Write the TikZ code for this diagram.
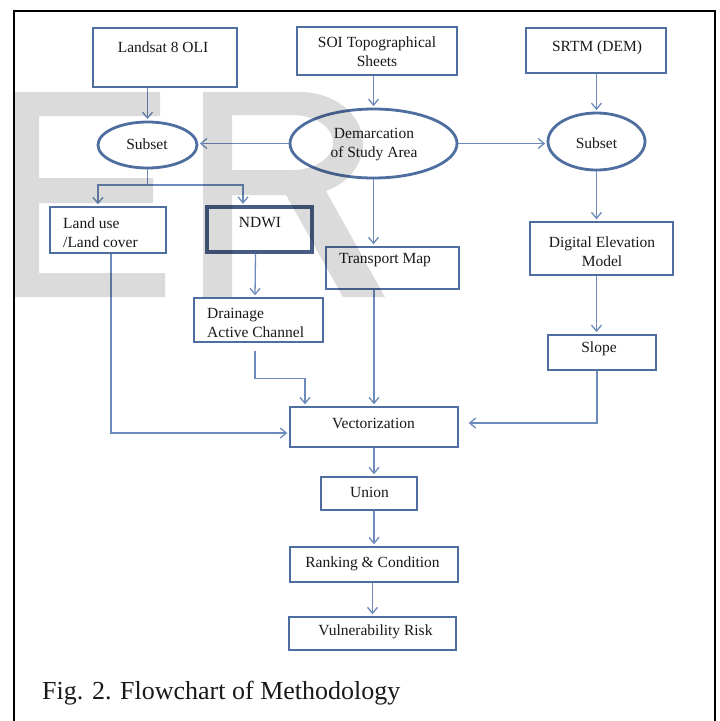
\documentclass[tikz,border=0pt]{standalone}
\usepackage{fontspec}
\setmainfont{Liberation Serif}
\usetikzlibrary{arrows.meta,calc,shapes.geometric}
\definecolor{bord}{RGB}{79,110,160}
\definecolor{bordd}{RGB}{70,92,132}
\definecolor{arr}{RGB}{108,138,186}
\begin{document}
\begin{tikzpicture}[x=1pt,y=-1pt,
  box/.style={draw=bord, line width=2.4pt, fill=white, inner sep=0pt, rectangle},
  ell/.style={draw=bord, line width=2.8pt, fill=white, inner sep=0pt, ellipse},
  txt/.style={font=\fontsize{15.5}{19}\selectfont, text=black!90, inner sep=0pt, align=center},
  ltxt/.style={txt, align=left, anchor=west},
  ln/.style={draw=arr, line width=1.3pt},
  conn/.style={ln, -{Straight Barb[length=6pt,width=10pt]}, shorten >=1.5pt}]
\useasboundingbox (0,0) rectangle (720,721);
% boxes
\node[box, minimum width=144, minimum height=59] (landsat) at (165,57.5) {};
\node[txt] (landsat-t) at (163,47) {Landsat 8 OLI};
\node[box, minimum width=160, minimum height=48] (soi) at (377,51) {};
\node[txt] (soi-t) at (377,52) {SOI Topographical\\Sheets};
\node[box, minimum width=140, minimum height=45] (srtm) at (596,50.5) {};
\node[txt] (srtm-t) at (597,48) {SRTM (DEM)};
\node[ell, minimum width=99, minimum height=46] (subsetL) at (147.5,145) {};
\node[txt] (subsetL-t) at (147,144) {Subset};
\node[ell, minimum width=167, minimum height=69] (demarc) at (373.5,143.5) {};
\node[txt] (demarc-t) at (374,145) {Demarcation\\of Study Area};
\node[ell, minimum width=97, minimum height=57] (subsetR) at (596.5,141.5) {};
\node[txt] (subsetR-t) at (596.5,143) {Subset};
\node[box, minimum width=116, minimum height=46] (landuse) at (108,230) {};
\node[ltxt] (landuse-t) at (63,232.5) {Land use\\/Land cover};
\node[box, draw=bordd, line width=3.4pt, minimum width=105, minimum height=45] (ndwi) at (259.5,229.5) {};
\node[txt] (ndwi-t) at (260,223) {NDWI};
\node[box, minimum width=133, minimum height=42] (transport) at (392.5,268) {};
\node[txt] (transport-t) at (385,260) {Transport Map};
\node[box, minimum width=143, minimum height=53] (dem) at (601.5,248.5) {};
\node[txt] (dem-t) at (602,252) {Digital Elevation\\Model};
\node[box, minimum width=129, minimum height=44] (drainage) at (258.5,320) {};
\node[ltxt] (drainage-t) at (207,322.5) {Drainage\\Active Channel};
\node[box, line width=2.8pt, minimum width=108, minimum height=35] (slope) at (602,352.5) {};
\node[txt] (slope-t) at (599,349) {Slope};
\node[box, minimum width=168, minimum height=40] (vector) at (374,427) {};
\node[txt] (vector-t) at (373.5,423) {Vectorization};
\node[box, minimum width=96, minimum height=33] (union) at (369,493.5) {};
\node[txt] (union-t) at (369.5,492) {Union};
\node[box, minimum width=168, minimum height=35] (ranking) at (374,564.5) {};
\node[txt] (ranking-t) at (372.5,564) {Ranking \& Condition};
\node[box, minimum width=167, minimum height=33] (vuln) at (372.5,633.5) {};
\node[txt] (vuln-t) at (375.5,632) {Vulnerability Risk};
% connectors
\draw[conn] (subsetL.north |- landsat.south) -- (subsetL.north);
\draw[conn] (demarc.north |- soi.south) -- (demarc.north);
\draw[conn] (subsetR.north |- srtm.south) -- (subsetR.north);
\draw[conn] (demarc.west) -- (demarc.west -| subsetL.east);
\draw[conn] (demarc.east) -- (demarc.east -| subsetR.west);
\coordinate (split) at (149,185);
\draw[ln] (subsetL.south) -- (subsetL.south |- split);
\draw[conn] (subsetL.south |- split) -| ($(landuse.north)+(-10,0)$);
\draw[conn] (subsetL.south |- split) -| ($(ndwi.north)+(-16.5,0)$);
\draw[conn] (demarc.south) -- (demarc.south |- transport.north);
\draw[conn] (subsetR.south) -- (subsetR.south |- dem.north);
\draw[conn] (subsetR.south |- dem.south) -- (subsetR.south |- slope.north);
\draw[conn] ($(ndwi.south)+(-4,0)$) -- ($(drainage.north)+(-3.5,0)$);
\draw[conn] ($(drainage.south)+(-3.5,8)$) -- ++(0,27) -| ($(vector.north)+(-69,0)$);
\draw[conn] ($(landuse.south)+(3,0)$) |- ($(vector.west)+(0,6)$);
\draw[conn] (transport.south -| vector.north) -- (vector.north);
\draw[conn] ($(slope.south)+(-5,0)$) |- ($(vector.east)+(8,-4)$);
\draw[conn] (vector.south) -- (vector.south |- union.north);
\draw[conn] (ranking.north |- union.south) -- (ranking.north);
\draw[conn] (vuln.north |- ranking.south) -- (vuln.north);
% frame and caption
\draw[line width=2.3pt] (14,721) -- (14,11) -- (715,11) -- (715,721);
\node[anchor=base west, font=\fontsize{26}{30}\selectfont, inner sep=0pt, text=black!90] (caption) at (42,699) {Fig. 2. Flowchart of Methodology};
% watermark
\fill[black, fill opacity=0.14, even odd rule]
  (15,92) -- (160,92) -- (160,116) -- (39,116) -- (39,178) -- (153,178) -- (153,203) -- (39,203) -- (39,273) -- (165,273) -- (165,297) -- (15,297) -- cycle
  (203,297) -- (203,92) -- (300,92) .. controls (335,92) and (363,115) .. (363,143.5) .. controls (363,165) and (348,183) .. (326,191) -- (385,297) -- (343,297) -- (286,195) -- (232,195) -- (232,297) -- cycle
  (232,115) -- (292,115) .. controls (315,115) and (333,127) .. (333,142.5) .. controls (333,158) and (315,170) .. (292,170) -- (232,170) -- cycle;
\end{tikzpicture}
\end{document}
